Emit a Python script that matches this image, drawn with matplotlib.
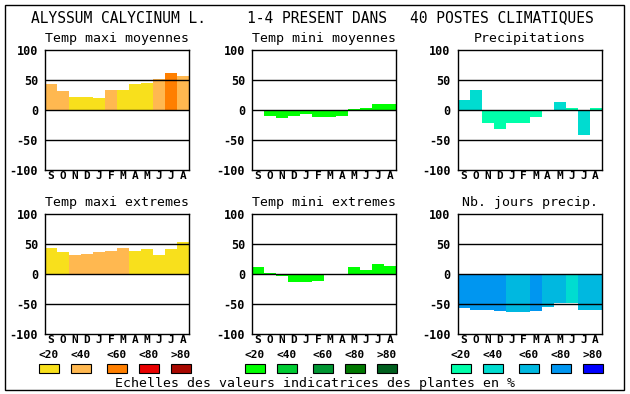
import numpy as np
import matplotlib
matplotlib.use("Agg")
import matplotlib.pyplot as plt
from matplotlib.patches import Rectangle

W, H = 630, 394
MONO = "DejaVu Sans Mono"

months = ["S", "O", "N", "D", "J", "F", "M", "A", "M", "J", "J", "A"]
class_labels = ["<20", "<40", "<60", "<80", ">80"]

# colour scales (one per legend column)
temp_max_cols = ["#f8e01c", "#ffb850", "#ff7f00", "#e80000", "#a80800"]
temp_min_cols = ["#00ff00", "#00cc33", "#009632", "#007800", "#005f1e"]
precip_cols = ["#00ffaa", "#00dcd0", "#00b8e0", "#0096f0", "#0000ff"]

# values (Sep -> Aug) and class index of each bar
tmax_moy = [44, 32, 22, 22, 20, 34, 34, 44, 45, 52, 62, 57]
tmax_moy_cls = [1, 1, 0, 0, 0, 1, 0, 0, 0, 1, 2, 1]
tmin_moy = [0, -10, -14, -10, -7, -12, -12, -10, 2, 4, 10, 10]
tmin_moy_cls = [0] * 12
precip = [16, 34, -21, -31, -22, -21, -12, 0, 14, 4, -42, 4]
precip_cls = [1, 1, 0, 0, 0, 0, 0, 0, 1, 0, 1, 0]
tmax_ext = [44, 36, 32, 34, 36, 38, 44, 38, 42, 32, 41, 54]
tmax_ext_cls = [0, 0, 1, 1, 1, 1, 1, 0, 0, 0, 0, 0]
tmin_ext = [12, 2, -4, -13, -13, -11, 0, -2, 11, 6, 16, 14]
tmin_ext_cls = [0] * 12
jours = [-57, -60, -60, -62, -63, -63, -62, -55, -48, -48, -60, -60]
jours_cls = [3, 3, 3, 3, 2, 2, 3, 2, 2, 1, 2, 2]

panels = [
    ("Temp maxi moyennes", tmax_moy, tmax_moy_cls, temp_max_cols, 45, 50),
    ("Temp mini moyennes", tmin_moy, tmin_moy_cls, temp_min_cols, 252, 50),
    ("Precipitations", precip, precip_cls, precip_cols, 457.5, 50),
    ("Temp maxi extremes", tmax_ext, tmax_ext_cls, temp_max_cols, 45, 214),
    ("Temp mini extremes", tmin_ext, tmin_ext_cls, temp_min_cols, 252, 214),
    ("Nb. jours precip.", jours, jours_cls, precip_cols, 457.5, 214),
]

fig = plt.figure(figsize=(W / 100, H / 100), dpi=100)

# overlay for frame, title, legends
ov = fig.add_axes([0, 0, 1, 1])
ov.set_xlim(0, W)
ov.set_ylim(H, 0)
ov.axis("off")
ov.add_patch(Rectangle((4.5, 4.5), 619.5, 385.5, fill=False, ec="black", lw=1))

ov.text(31, 18, "ALYSSUM CALYCINUM L.", family=MONO, fontsize=10.5, va="center")
ov.text(247, 18, "1-4 PRESENT DANS", family=MONO, fontsize=10.5, va="center")
ov.text(410, 18, "40 POSTES CLIMATIQUES", family=MONO, fontsize=10.5, va="center")

for title, vals, cls, cols, px, py in panels:
    ax = fig.add_axes([px / W, 1 - (py + 120) / H, 144 / W, 120 / H])
    x = np.arange(12)
    ax.bar(x, vals, width=1, align="edge", color=[cols[c] for c in cls],
           linewidth=0, zorder=1)
    for yv in (50, 0, -50):
        ax.axhline(yv, color="black", lw=1, zorder=3)
    ax.set_xlim(0, 12)
    ax.set_ylim(-100, 100)
    ax.set_yticks([100, 50, 0, -50, -100])
    ax.set_yticklabels(["100", "50", "0", "-50", "-100"], family=MONO,
                       fontsize=8.5, fontweight="bold")
    ax.set_xticks(x + 0.5)
    ax.set_xticklabels(months, family=MONO, fontsize=8, fontweight="bold")
    ax.tick_params(length=0)
    ax.tick_params(axis="x", pad=1)
    ax.tick_params(axis="y", pad=5)
    for s in ax.spines.values():
        s.set_linewidth(1)
        s.set_zorder(4)
    ov.text(px + 72, py - 12, title, family=MONO, fontsize=9.5,
            ha="center", va="center")

legend_x = [[39, 71, 107, 139, 171], [245, 277, 313, 345, 377],
            [451, 483, 519, 551, 583]]
for xs, cols in zip(legend_x, [temp_max_cols, temp_min_cols, precip_cols]):
    for bx, col, lab in zip(xs, cols, class_labels):
        ov.add_patch(Rectangle((bx, 364), 20, 9, fc=col, ec="black", lw=0.8))
        ov.text(bx + 10, 355, lab, family=MONO, fontsize=8,
                fontweight="bold", ha="center", va="center")

ov.text(315, 383, "Echelles des valeurs indicatrices des plantes en %",
        family=MONO, fontsize=9.5, ha="center", va="center")

fig.savefig("out.png", dpi=100)
